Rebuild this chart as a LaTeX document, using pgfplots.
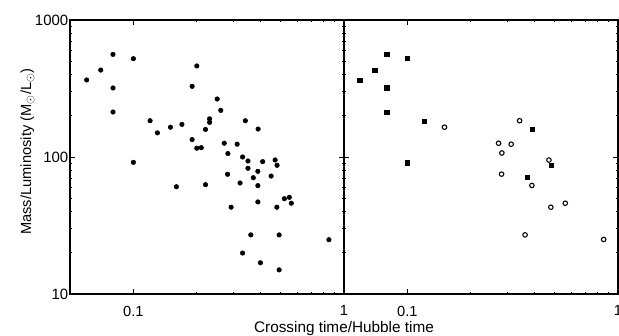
\documentclass[border=0pt]{standalone}
\usepackage{pgfplots}
\pgfplotsset{compat=1.18}
\usepackage{fontspec}
\setmainfont{Liberation Sans}
\begin{document}
\fontsize{11pt}{13pt}\selectfont
\begin{tikzpicture}
\useasboundingbox (0pt,0pt) rectangle (464.25pt,252pt);
\pgfplotsset{
  every axis/.append style={
    xmode=log, ymode=log,
    scale only axis,
    width=205.5pt, height=205.5pt,
    xmin=0.05, xmax=1, ymin=10, ymax=1000,
    xtick={0.1,1}, xticklabels={0.1,1},
    ytick={10,100,1000},
    tick align=inside,
    major tick length=3.4pt,
    minor tick length=1.8pt,
    tick style={black, line width=0.6pt},
    axis line style={line width=1.1pt},
    xtick pos=both, ytick pos=both,
    /pgf/number format/assume math mode=true,
    xticklabel style={yshift=-5pt, font=\fontsize{11pt}{13pt}\selectfont},
    yticklabel style={xshift=2.5pt, font=\fontsize{11.2pt}{13pt}\selectfont},
    clip=false,
  }
}
\begin{axis}[
  at={(52.5pt,31.5pt)}, anchor=south west,
  yticklabels={10,100,1000},
  ylabel={Mass/Luminosity (M$_\odot$/L$_\odot$)},
  ylabel style={at={(axis description cs:-0.155,0.52)}, anchor=center, font=\fontsize{11pt}{13pt}\selectfont},
  xlabel={Crossing time/Hubble time},
  xlabel style={at={(axis description cs:1,-0.125)}, anchor=center, font=\fontsize{11.5pt}{13pt}\selectfont},
]
\addplot[only marks, mark=*, mark size=1.7pt, black] coordinates {
(0.060,365) (0.070,431) (0.080,561) (0.080,319) (0.080,213)
(0.100,522) (0.100,91.4) (0.120,184) (0.130,150) (0.150,165)
(0.160,60.7) (0.170,173) (0.190,328) (0.190,134) (0.200,462)
(0.200,116) (0.210,117) (0.220,159) (0.220,62.8) (0.230,190)
(0.230,179) (0.250,265) (0.260,219) (0.270,126) (0.281,106)
(0.280,74.8) (0.291,43) (0.311,124) (0.321,64.6) (0.330,100)
(0.330,19.9) (0.340,184) (0.350,93.5) (0.350,82.7) (0.361,27)
(0.371,70.6) (0.391,160) (0.390,78.6) (0.390,61.8) (0.390,47)
(0.401,16.9) (0.411,92.5) (0.451,72.6) (0.471,95.1) (0.481,87)
(0.480,43) (0.492,27) (0.492,15.0) (0.521,49.6) (0.550,50.8)
(0.562,46) (0.848,24.9)
};
\end{axis}
\begin{axis}[
  at={(258pt,31.5pt)}, anchor=south west,
  yticklabels={},
]
\addplot[only marks, mark=square*, mark size=1.7pt, black] coordinates {
(0.0595,363) (0.070,430) (0.080,561) (0.080,319) (0.080,212)
(0.100,525) (0.100,91) (0.120,182) (0.391,159) (0.482,87)
(0.370,71)
};
\addplot[only marks, mark=o, mark size=1.7pt, line width=0.8pt, black] coordinates {
(0.150,165) (0.341,184) (0.271,126) (0.311,124) (0.281,107)
(0.280,75) (0.470,95) (0.390,62) (0.480,43) (0.562,46)
(0.362,27) (0.855,25)
};
\end{axis}
\end{tikzpicture}
\end{document}
